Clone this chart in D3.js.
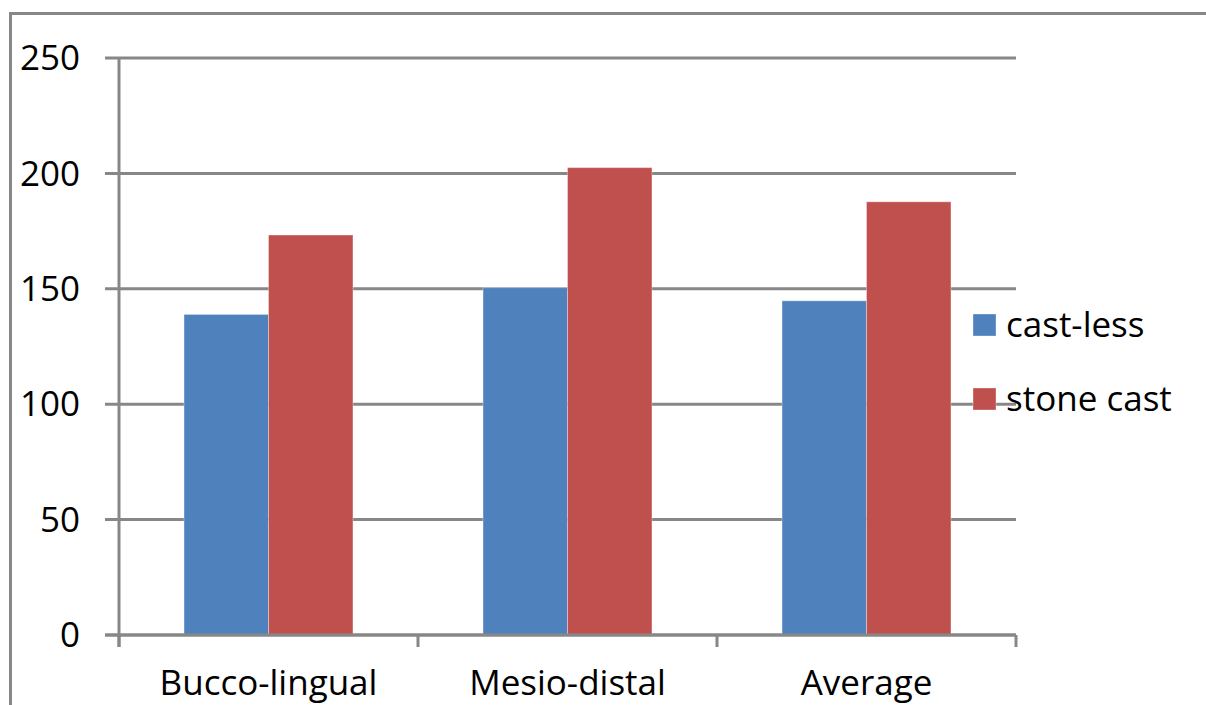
<!DOCTYPE html>
<html><head><meta charset="utf-8">
<script src="https://cdn.jsdelivr.net/npm/d3@7"></script>
<style>body{margin:0;background:#fff}svg{display:block}text{font-family:"Open Sans",sans-serif;fill:#000}</style>
</head><body>
<script>
const categories = ["Bucco-lingual", "Mesio-distal", "Average"];
const seriesNames = ["cast-less", "stone cast"];
const castLess = [138.9, 150.5, 144.8];
const stoneCast = [173.3, 202.5, 187.7];
const yTicks = [0, 50, 100, 150, 200, 250];
const colors = ["#4F81BD", "#C0504D"];

const W = 1206, H = 705;
const svg = d3.select("body").append("svg").attr("width", W).attr("height", H);
const grey = "#878787";

// outer frame (only left and top edges visible)
svg.append("rect").attr("x", 10.5).attr("y", 13.5).attr("width", W + 40).attr("height", H + 40)
  .attr("fill", "none").attr("stroke", grey).attr("stroke-width", 3);

const x0 = 119, x1 = 1016, yTop = 58, yBot = 635;
const x = d3.scaleBand().domain(categories).range([x0, x1]).paddingInner(0).paddingOuter(0);
const xs = d3.scaleBand().domain(seriesNames).range([0, x.bandwidth()]).paddingInner(0).paddingOuter(0.77);
const y = d3.scaleLinear().domain([0, 250]).range([yBot, yTop]);

// gridlines
svg.append("g").selectAll("line").data(yTicks).join("line")
  .attr("x1", x0 - 14).attr("x2", x1).attr("y1", d => y(d)).attr("y2", d => y(d))
  .attr("stroke", grey).attr("stroke-width", 3);

// y labels
svg.append("g").selectAll("text").data(yTicks).join("text")
  .attr("x", 80).attr("y", d => y(d)).attr("dy", "0.35em").attr("text-anchor", "end")
  .style("font-size", "35px").text(d => d);

// bars
const data = [castLess, stoneCast];
data.forEach((vals, si) => {
  svg.append("g").selectAll("rect").data(categories).join("rect")
    .attr("x", c => x(c) + xs(seriesNames[si]))
    .attr("width", xs.bandwidth())
    .attr("y", (c, i) => y(vals[i]))
    .attr("height", (c, i) => yBot - y(vals[i]))
    .attr("fill", colors[si])
    .attr("stroke", "rgba(255,255,255,0.35)").attr("stroke-width", 1);
});

// y axis line
svg.append("line").attr("x1", x0).attr("x2", x0).attr("y1", yTop).attr("y2", yBot + 12)
  .attr("stroke", grey).attr("stroke-width", 3);
// x axis
svg.append("line").attr("x1", x0 - 14).attr("x2", x1).attr("y1", yBot).attr("y2", yBot)
  .attr("stroke", grey).attr("stroke-width", 3);
const bounds = categories.map(c => x(c)).concat([x1]);
svg.append("g").selectAll("line").data(bounds).join("line")
  .attr("x1", d => d).attr("x2", d => d).attr("y1", yBot).attr("y2", yBot + 12)
  .attr("stroke", grey).attr("stroke-width", 3);

// x labels
svg.append("g").selectAll("text").data(categories).join("text")
  .attr("x", c => x(c) + x.bandwidth() / 2).attr("y", 695).attr("text-anchor", "middle")
  .style("font-size", "35px").text(c => c);

// legend
const leg = svg.append("g");
seriesNames.forEach((s, i) => {
  const yy = 314 + i * 74;
  leg.append("rect").attr("x", 973).attr("y", yy).attr("width", 23).attr("height", 22)
    .attr("fill", colors[i]).attr("stroke", "rgba(255,255,255,0.35)");
  leg.append("text").attr("x", 1006).attr("y", yy + 23).style("font-size", "35px").text(s);
});
</script>
</body></html>
